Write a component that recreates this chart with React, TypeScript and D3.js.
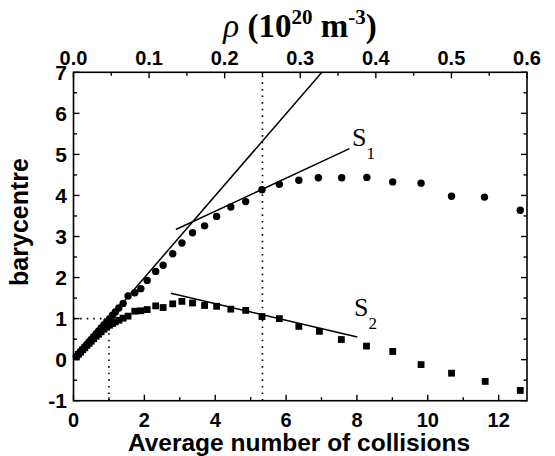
import React from 'react';
import * as d3 from 'd3';

const circleX = [0.08, 0.14, 0.2, 0.26, 0.32, 0.38, 0.44, 0.5, 0.57, 0.64, 0.71, 0.78, 0.86, 0.94, 1.02, 1.1, 1.18, 1.28, 1.4, 1.54, 1.73, 1.9, 2.08, 2.32, 2.53, 2.8, 3.06, 3.36, 3.7, 4.04, 4.44, 4.86, 5.32, 5.81, 6.36, 6.91, 7.57, 8.28, 9.01, 9.81, 10.67, 11.6, 12.61];
const circleY = [0.08, 0.14, 0.2, 0.25, 0.31, 0.37, 0.43, 0.49, 0.56, 0.63, 0.7, 0.77, 0.85, 0.93, 1.0, 1.08, 1.16, 1.26, 1.37, 1.55, 1.63, 1.73, 1.93, 2.15, 2.3, 2.58, 2.84, 3.09, 3.26, 3.49, 3.72, 3.85, 4.14, 4.27, 4.37, 4.43, 4.43, 4.44, 4.33, 4.3, 3.98, 3.96, 3.64];
const squareX = [0.08, 0.14, 0.2, 0.26, 0.32, 0.38, 0.44, 0.5, 0.57, 0.64, 0.71, 0.78, 0.86, 0.94, 1.02, 1.1, 1.18, 1.28, 1.4, 1.54, 1.73, 1.9, 2.08, 2.32, 2.53, 2.8, 3.06, 3.36, 3.7, 4.04, 4.44, 4.86, 5.32, 5.81, 6.36, 6.94, 7.56, 8.27, 9.01, 9.81, 10.67, 11.62, 12.61];
const squareY = [0.07, 0.13, 0.18, 0.24, 0.29, 0.35, 0.4, 0.45, 0.51, 0.57, 0.62, 0.68, 0.74, 0.79, 0.84, 0.88, 0.92, 0.96, 1.01, 1.06, 1.18, 1.19, 1.22, 1.31, 1.27, 1.36, 1.42, 1.38, 1.32, 1.3, 1.23, 1.2, 1.05, 1.0, 0.81, 0.69, 0.49, 0.33, 0.2, -0.12, -0.33, -0.53, -0.75];

const xMajor = [0, 2, 4, 6, 8, 10, 12];
const xMinor = [1, 3, 5, 7, 9, 11];
const topMajor = [0, 0.1, 0.2, 0.3, 0.4, 0.5, 0.6];
const topLabels = ['0.0', '0.1', '0.2', '0.3', '0.4', '0.5', '0.6'];
const topMinor = [0.05, 0.15, 0.25, 0.35, 0.45, 0.55];
const yMajor = [-1, 0, 1, 2, 3, 4, 5, 6, 7];
const yMinor = [-0.5, 0.5, 1.5, 2.5, 3.5, 4.5, 5.5, 6.5];

const steepLine: [number, number][] = [[0, 0], [7.01, 7]];
const s1Line: [number, number][] = [[2.89, 3.17], [7.79, 5.14]];
const s2Line: [number, number][] = [[2.75, 1.62], [8.01, 0.55]];
const markX = 1;
const markY = 1;
const rhoMark = 0.25;

const L = 73.5, R = 527, T = 72.3, B = 400.7;

export default function App() {
  const x = d3.scaleLinear().domain([0, 12.8]).range([L, R]);
  const xTop = d3.scaleLinear().domain([0, 0.6]).range([L, R]);
  const y = d3.scaleLinear().domain([-1, 7]).range([B, T]);
  const line = d3.line<[number, number]>().x(d => x(d[0])).y(d => y(d[1]));
  const sans = 'Liberation Sans, Arial, sans-serif';
  const serif = 'Liberation Serif, Times New Roman, serif';
  const majorLen = 6, minorLen = 3.5;
  const sq = 6.8;
  return (
    <svg width={555} height={456} style={{ position: 'absolute', left: 0, top: 0, background: '#fff' }}>
      <rect x={0} y={0} width={555} height={456} fill="#fff" />
      {/* dotted reference lines */}
      <line x1={x(markX)} x2={x(markX)} y1={y(-1)} y2={y(markY)} stroke="#000" strokeWidth={1.6} strokeDasharray="1.6,5" />
      <line x1={x(0)} x2={x(markX)} y1={y(markY)} y2={y(markY)} stroke="#000" strokeWidth={1.6} strokeDasharray="1.6,5" />
      <line x1={xTop(rhoMark)} x2={xTop(rhoMark)} y1={y(-1)} y2={y(7)} stroke="#000" strokeWidth={1.6} strokeDasharray="1.6,5" />
      {/* fit lines */}
      <path d={line(steepLine) || ''} stroke="#000" strokeWidth={1.5} fill="none" />
      <path d={line(s1Line) || ''} stroke="#000" strokeWidth={1.5} fill="none" />
      <path d={line(s2Line) || ''} stroke="#000" strokeWidth={1.5} fill="none" />
      {/* data */}
      {circleX.map((v, i) => (
        <circle key={'c' + i} cx={x(v)} cy={y(circleY[i])} r={3.7} fill="#000" />
      ))}
      {squareX.map((v, i) => (
        <rect key={'s' + i} x={x(v) - sq / 2} y={y(squareY[i]) - sq / 2} width={sq} height={sq} fill="#000" />
      ))}
      {/* frame */}
      <rect x={L} y={T} width={R - L} height={B - T} fill="none" stroke="#000" strokeWidth={1.6} />
      {/* bottom ticks */}
      {xMajor.map(t => (
        <g key={'xb' + t}>
          <line x1={x(t)} x2={x(t)} y1={B} y2={B - majorLen} stroke="#000" strokeWidth={1.4} />
          <text x={x(t)} y={427} textAnchor="middle" fontFamily={sans} fontWeight="bold" fontSize={20}>{t}</text>
        </g>
      ))}
      {xMinor.map(t => (
        <line key={'xm' + t} x1={x(t)} x2={x(t)} y1={B} y2={B - minorLen} stroke="#000" strokeWidth={1.4} />
      ))}
      {/* top ticks */}
      {topMajor.map((t, i) => (
        <g key={'xt' + t}>
          <line x1={xTop(t)} x2={xTop(t)} y1={T} y2={T + majorLen} stroke="#000" strokeWidth={1.4} />
          <text x={xTop(t)} y={65} textAnchor="middle" fontFamily={sans} fontWeight="bold" fontSize={20}>{topLabels[i]}</text>
        </g>
      ))}
      {topMinor.map(t => (
        <line key={'tm' + t} x1={xTop(t)} x2={xTop(t)} y1={T} y2={T + minorLen} stroke="#000" strokeWidth={1.4} />
      ))}
      {/* left and right ticks */}
      {yMajor.map(t => (
        <g key={'y' + t}>
          <line x1={L} x2={L + majorLen} y1={y(t)} y2={y(t)} stroke="#000" strokeWidth={1.4} />
          <line x1={R} x2={R - majorLen} y1={y(t)} y2={y(t)} stroke="#000" strokeWidth={1.4} />
          <text x={67} y={y(t)} dy="0.36em" textAnchor="end" fontFamily={sans} fontWeight="bold" fontSize={21}>{t}</text>
        </g>
      ))}
      {yMinor.map(t => (
        <g key={'ym' + t}>
          <line x1={L} x2={L + minorLen} y1={y(t)} y2={y(t)} stroke="#000" strokeWidth={1.4} />
          <line x1={R} x2={R - minorLen} y1={y(t)} y2={y(t)} stroke="#000" strokeWidth={1.4} />
        </g>
      ))}
      {/* axis titles */}
      <text x={299} y={451} textAnchor="middle" fontFamily={sans} fontWeight="bold" fontSize={24.5}>Average number of collisions</text>
      <text transform="translate(28,222) rotate(-90)" textAnchor="middle" fontFamily={sans} fontWeight="bold" fontSize={25}>barycentre</text>
      <text x={300} y={37} textAnchor="middle" fontFamily={serif} fontWeight="bold" fontSize={33}>
        <tspan fontStyle="italic" fontWeight="normal">ρ</tspan>
        <tspan> (10</tspan>
        <tspan fontSize={21} dy={-13}>20</tspan>
        <tspan dy={13}> m</tspan>
        <tspan fontSize={21} dy={-13}>-3</tspan>
        <tspan dy={13}>)</tspan>
      </text>
      {/* S labels */}
      <text x={352} y={146} fontFamily={serif} fontSize={26}>S<tspan fontSize={17} dy={13}>1</tspan></text>
      <text x={354} y={316} fontFamily={serif} fontSize={26}>S<tspan fontSize={17} dy={13}>2</tspan></text>
    </svg>
  );
}
